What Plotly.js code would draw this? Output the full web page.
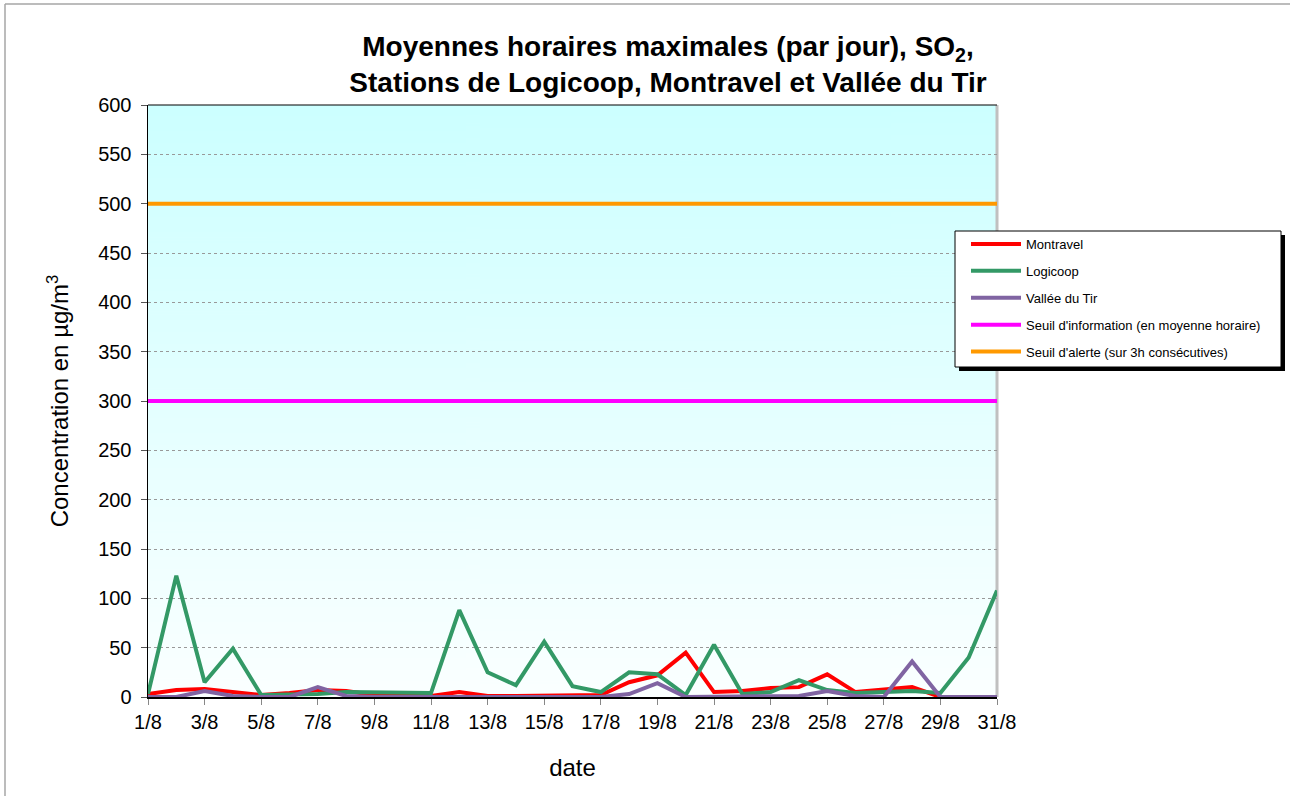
<!DOCTYPE html>
<html>
<head>
<meta charset="utf-8">
<script src="https://cdn.plot.ly/plotly-3.0.1.min.js"></script>
<style>html,body{margin:0;padding:0;background:#fff;}#chart{width:1290px;height:796px;}</style>
</head>
<body>
<div id="chart"></div>
<script>
// ---- Data ----
var categories = ['1/8','2/8','3/8','4/8','5/8','6/8','7/8','8/8','9/8','10/8',
  '11/8','12/8','13/8','14/8','15/8','16/8','17/8','18/8','19/8','20/8',
  '21/8','22/8','23/8','24/8','25/8','26/8','27/8','28/8','29/8','30/8','31/8'];
var montravel   = [3, 7, 8, 5, 2, 4, 7, 6, 2, 2, 1, 5, 1, 1, 1, 1, 2, 15, 22, 45, 5, 6, 9, 10, 23, 5, 8, 10, 0, 0, 0];
var logicoop    = [3, 123, 15, 49, 2, 2, 3, 5, 5, 5, 4, 88, 25, 12, 56, 11, 5, 25, 23, 2, 53, 3, 5, 17, 7, 4, 5, 6, 4, 40, 108];
var valleeDuTir = [0, 0, 6, 1, 0, 0, 10, 1, 0, 0, 0, 0, 0, 0, 0, 0, 0, 3, 14, 0, 0, 0, 0, 1, 6, 1, 0, 36, 0, 0, 0];
var seuilX = ['1/8', '31/8'];
var seuilInformation = [300, 300];
var seuilAlerte = [500, 500];
var tickLabels = ['1/8','3/8','5/8','7/8','9/8','11/8','13/8','15/8','17/8','19/8',
  '21/8','23/8','25/8','27/8','29/8','31/8'];
var yTicks = [0, 50, 100, 150, 200, 250, 300, 350, 400, 450, 500, 550, 600];

// ---- Gradient background image for the plot area ----
var cv = document.createElement('canvas');
cv.width = 4; cv.height = 400;
var ctx = cv.getContext('2d');
var grad = ctx.createLinearGradient(0, 0, 0, 400);
grad.addColorStop(0, '#ccffff');
grad.addColorStop(1, '#fbffff');
ctx.fillStyle = grad;
ctx.fillRect(0, 0, 4, 400);
var bgImg = cv.toDataURL('image/png');

var FONT = 'Liberation Sans, Arial, sans-serif';

function mk(name, x, y, color, group) {
  return {
    type: 'scatter', mode: 'lines', name: name, x: x, y: y,
    line: {color: color, width: 4}, legendgroup: group,
    hoverinfo: 'x+y+name'
  };
}

var traces = [
  mk('Montravel', categories, montravel, '#ff0000', 'g1'),
  mk('Logicoop', categories, logicoop, '#339966', 'g2'),
  mk('Vallée du Tir', categories, valleeDuTir, '#8064a2', 'g3'),
  mk("Seuil d'information (en moyenne horaire)", seuilX, seuilInformation, '#ff00ff', 'g4'),
  mk("Seuil d'alerte (sur 3h consécutives)", seuilX, seuilAlerte, '#ff9900', 'g5')
];

// pixel -> paper helpers (plot area: x 148..997, y 105..697)
var L = 148, R = 997, T = 105, B = 697;
function px(x) { return (x - L) / (R - L); }
function py(y) { return (B - y) / (B - T); }

var layout = {
  width: 1290, height: 796,
  margin: {l: L, r: 1290 - R, t: T, b: 796 - B, pad: 0},
  paper_bgcolor: '#ffffff',
  plot_bgcolor: 'rgba(0,0,0,0)',
  font: {family: FONT, color: '#000000'},
  showlegend: true,
  title: {
    text: 'Moyennes horaires maximales (par jour), SO<sub>2</sub>,<br>Stations de Logicoop, Montravel et Vallée du Tir',
    font: {family: FONT, size: 28, color: '#000000', weight: 'bold'},
    xref: 'paper', x: px(668), xanchor: 'center',
    yref: 'paper', y: 1, yanchor: 'bottom',
    pad: {b: 49}
  },
  xaxis: {
    type: 'category',
    range: [0, 30],
    tickmode: 'array', tickvals: tickLabels, ticktext: tickLabels,
    ticks: 'outside', ticklen: 6, tickwidth: 1, tickcolor: '#888888',
    showline: true, linecolor: '#000000', linewidth: 1.5,
    showgrid: false, zeroline: false,
    tickfont: {family: FONT, size: 20, color: '#000000'},
    title: {text: 'date', font: {family: FONT, size: 24, color: '#000000'}, standoff: 27},
    automargin: false, fixedrange: true
  },
  yaxis: {
    range: [0, 600],
    tickmode: 'array', tickvals: yTicks,
    ticks: 'outside', ticklen: 6, tickwidth: 1, tickcolor: '#555555',
    ticklabelstandoff: 5,
    showline: true, linecolor: '#000000', linewidth: 1.5,
    showgrid: true, gridcolor: '#999999', gridwidth: 1, griddash: 'dot',
    zeroline: false,
    tickfont: {family: FONT, size: 20, color: '#000000'},
    title: {text: 'Concentration en µg/m<sup>3</sup>', font: {family: FONT, size: 24, color: '#000000'}, standoff: 22},
    automargin: false, fixedrange: true
  },
  legend: {
    x: px(966), y: py(229), xanchor: 'left', yanchor: 'top',
    xref: 'paper', yref: 'paper',
    bgcolor: 'rgba(0,0,0,0)', borderwidth: 0,
    font: {family: FONT, size: 13, color: '#000000'},
    traceorder: 'grouped', tracegroupgap: 7,
    itemwidth: 50
  },
  images: [{
    source: bgImg, xref: 'paper', yref: 'paper',
    x: 0, y: 1, sizex: 1, sizey: 1, sizing: 'stretch', layer: 'below'
  }],
  shapes: [
    // right border of the plot area (grey)
    {type: 'line', xref: 'paper', yref: 'paper', x0: 1, x1: 1, y0: 0, y1: 1,
     line: {color: '#c0c0c0', width: 3}, layer: 'below'},
    // top border of the plot area
    {type: 'line', xref: 'paper', yref: 'paper', x0: 0, x1: 1, y0: 1, y1: 1,
     line: {color: '#000000', width: 1}, layer: 'below'},
    // outer chart frame (left and top)
    {type: 'line', xref: 'paper', yref: 'paper', x0: px(5), x1: px(5), y0: py(4), y1: py(800),
     line: {color: '#a6a6a6', width: 1.5}},
    {type: 'line', xref: 'paper', yref: 'paper', x0: px(5), x1: px(1295), y0: py(4), y1: py(4),
     line: {color: '#a6a6a6', width: 1.5}},
    // legend drop shadow
    {type: 'rect', xref: 'paper', yref: 'paper', x0: px(959), x1: px(1285), y0: py(235), y1: py(371),
     fillcolor: '#000000', line: {width: 0}, layer: 'above'},
    // legend box
    {type: 'rect', xref: 'paper', yref: 'paper', x0: px(955), x1: px(1281), y0: py(231), y1: py(367),
     fillcolor: '#ffffff', line: {color: '#000000', width: 1}, layer: 'above'}
  ]
};

Plotly.newPlot('chart', traces, layout, {displayModeBar: false, staticPlot: true});
</script>
</body>
</html>
